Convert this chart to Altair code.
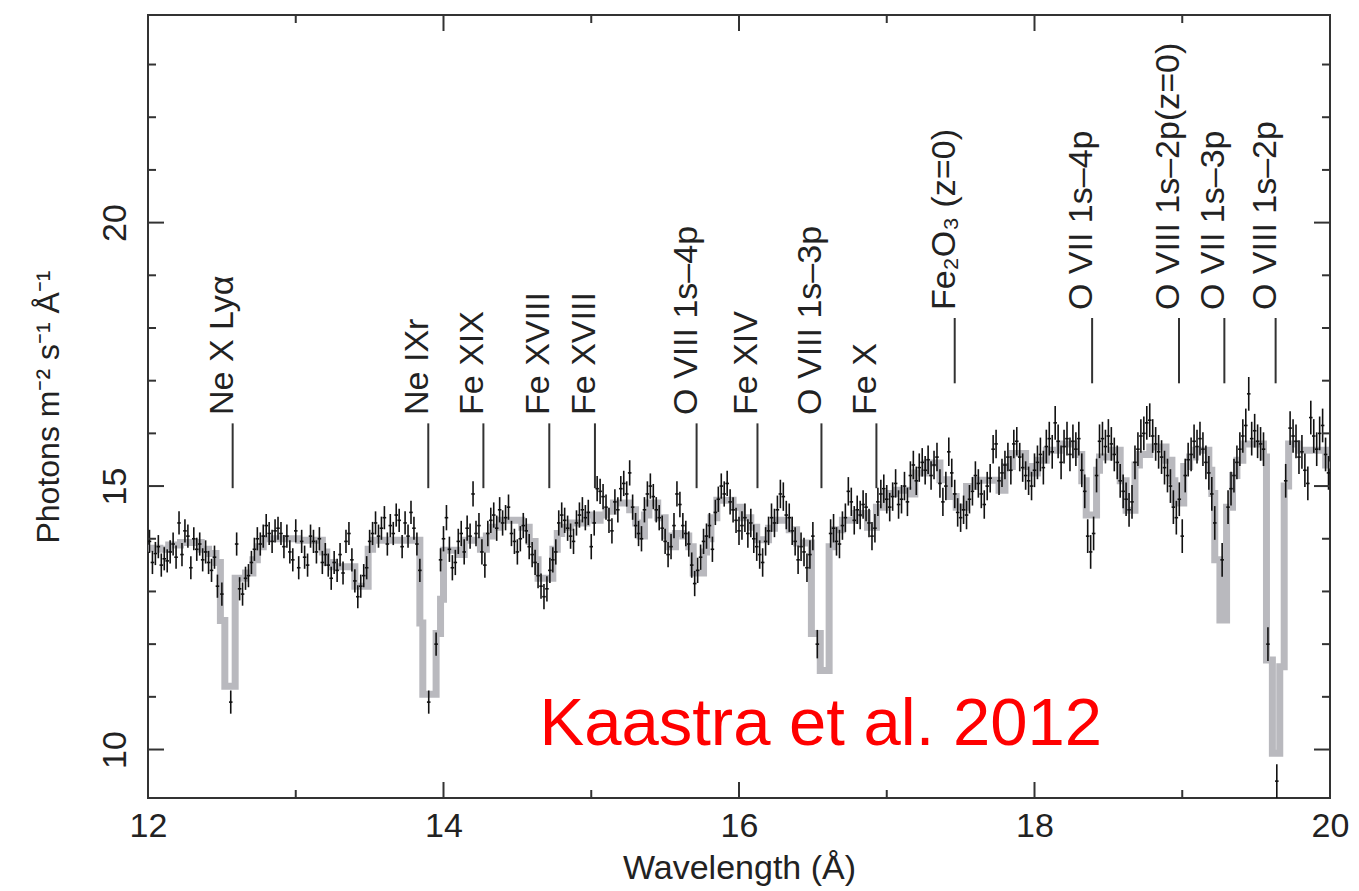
import altair as alt
import pandas as pd

FONT = "Liberation Sans"
INK = "#222222"

# ---------------- axis ranges and ticks ----------------
X_DOMAIN = [12.0, 20.0]
Y_DOMAIN = [9.08, 23.94]
X_LABEL_VALUES = [12, 14, 16, 18, 20]
X_MINOR = [13, 15, 17, 19]
Y_LABEL_VALUES = [10, 15, 20]
Y_MINOR = [11, 12, 13, 14, 16, 17, 18, 19, 21, 22, 23]

# ---------------- best-fit model (step curve) ----------------
MODEL_WAVE = [12.00, 12.08, 12.14, 12.22, 12.36, 12.41, 12.46, 12.49, 12.52, 12.59,
              12.66, 12.71, 12.74, 12.78, 13.02, 13.18, 13.21, 13.25, 13.40, 13.49,
              13.52, 13.84, 13.86, 13.95, 13.98, 14.00, 14.10, 14.14, 14.25, 14.29,
              14.33, 14.38, 14.53, 14.58, 14.62, 14.64, 14.74, 14.77, 14.80, 14.86,
              14.97, 15.02, 15.06, 15.10, 15.15, 15.26, 15.30, 15.33, 15.36, 15.39,
              15.45, 15.50, 15.53, 15.57, 15.62, 15.66, 15.69, 15.76, 15.78, 15.81,
              15.85, 15.96, 16.02, 16.08, 16.12, 16.20, 16.24, 16.34, 16.39, 16.49,
              16.55, 16.61, 16.64, 16.70, 16.79, 16.87, 16.93, 16.99, 17.06, 17.16,
              17.19, 17.27, 17.36, 17.42, 17.47, 17.54, 17.60, 17.76, 17.80, 17.85,
              17.94, 17.98, 18.02, 18.08, 18.17, 18.28, 18.32, 18.35, 18.42, 18.44,
              18.52, 18.58, 18.62, 18.68, 18.71, 18.78, 18.89, 18.93, 18.95, 19.01,
              19.05, 19.09, 19.18, 19.20, 19.22, 19.255, 19.30, 19.34, 19.37, 19.41,
              19.55, 19.57, 19.61, 19.66, 19.69, 19.72, 19.79, 19.97, 20.00]
MODEL_FLUX = [13.82, 13.80, 13.88, 13.93, 13.80, 13.72, 13.55, 12.45, 11.20, 13.25,
              13.35, 13.60, 13.85, 14.00, 13.97, 13.75, 13.55, 13.47, 13.10, 13.80,
              13.97, 12.40, 11.05, 12.20, 12.85, 13.78, 13.70, 13.97, 13.80, 14.05,
              14.22, 14.35, 14.22, 13.95, 13.60, 13.25, 13.80, 14.10, 14.22, 14.30,
              14.45, 14.35, 14.45, 14.52, 14.68, 14.55, 14.30, 14.05, 14.45, 14.68,
              14.40, 14.05, 13.85, 14.10, 14.05, 13.85, 13.35, 13.75, 14.00, 14.40,
              14.73, 14.60, 14.40, 14.22, 13.98, 14.20, 14.35, 14.17, 13.92, 12.20,
              11.50, 13.85, 14.17, 14.35, 14.48, 14.22, 14.60, 14.86, 14.92, 14.85,
              15.25, 15.44, 15.12, 14.80, 14.60, 14.99, 15.11, 14.92, 15.37, 15.62,
              15.37, 15.25, 15.49, 15.68, 15.80, 15.60, 15.10, 14.45, 15.30, 15.55,
              15.68, 15.10, 14.54, 15.40, 15.60, 15.74, 15.49, 15.10, 14.68, 15.37,
              15.55, 15.68, 15.30, 14.86, 13.60, 12.46, 14.60, 15.20, 15.49, 15.80,
              15.55, 11.70, 9.93, 11.57, 15.00, 15.80, 15.68, 15.40, 15.40]

# ---------------- observed spectrum: (wavelength, flux) per region ----------------
POINTS_12_14 = [
    (12.01, 13.95), (12.03, 13.55), (12.05, 13.72), (12.07, 13.85), (12.09, 13.50),
    (12.11, 13.62), (12.13, 13.58), (12.15, 13.75), (12.17, 13.90), (12.19, 13.65),
    (12.21, 14.30), (12.23, 13.70), (12.25, 14.15), (12.27, 14.05), (12.29, 13.45),
    (12.31, 14.00), (12.33, 13.80), (12.35, 13.90), (12.37, 13.60), (12.39, 13.75),
    (12.41, 13.55), (12.43, 13.40), (12.45, 13.65), (12.47, 13.10), (12.50, 12.95),
    (12.56, 10.90), (12.60, 13.90), (12.62, 13.05), (12.64, 12.95), (12.66, 13.25),
    (12.68, 13.30), (12.70, 13.55), (12.72, 13.80), (12.74, 14.00), (12.76, 13.90),
    (12.78, 14.05), (12.80, 14.25), (12.82, 14.10), (12.84, 13.95), (12.86, 14.15),
    (12.88, 14.20), (12.90, 14.10), (12.92, 13.85), (12.94, 14.05), (12.96, 13.75),
    (12.98, 13.60), (13.00, 14.15), (13.02, 13.45), (13.04, 13.95), (13.06, 13.65),
    (13.08, 13.50), (13.10, 14.05), (13.12, 13.95), (13.14, 13.75), (13.16, 14.00),
    (13.18, 13.55), (13.20, 13.70), (13.22, 13.50), (13.24, 13.25), (13.26, 13.55),
    (13.28, 13.40), (13.30, 13.70), (13.32, 13.35), (13.34, 13.95), (13.36, 14.10),
    (13.38, 13.60), (13.40, 13.20), (13.42, 12.90), (13.44, 13.10), (13.46, 13.30),
    (13.48, 13.45), (13.50, 13.95), (13.52, 14.10), (13.54, 14.30), (13.56, 14.05),
    (13.58, 14.20), (13.60, 14.40), (13.62, 13.90), (13.64, 14.25), (13.66, 14.10),
    (13.68, 14.45), (13.70, 14.35), (13.72, 13.85), (13.74, 14.30), (13.76, 14.05),
    (13.78, 14.50), (13.80, 14.20), (13.82, 13.90), (13.84, 13.40), (13.90, 10.90),
    (13.95, 12.00), (13.98, 13.60),
]
POINTS_14_16 = [
    (14.00, 14.00), (14.02, 14.40), (14.04, 13.80), (14.06, 13.45), (14.08, 13.55),
    (14.10, 13.95), (14.12, 14.10), (14.14, 13.75), (14.16, 14.20), (14.18, 14.05),
    (14.20, 14.85), (14.22, 14.10), (14.24, 14.25), (14.26, 13.75), (14.28, 13.50),
    (14.30, 14.10), (14.32, 14.35), (14.34, 14.45), (14.36, 14.20), (14.38, 14.55),
    (14.40, 14.30), (14.42, 14.40), (14.44, 14.60), (14.46, 14.10), (14.48, 13.95),
    (14.50, 13.75), (14.52, 14.00), (14.54, 14.25), (14.56, 14.15), (14.58, 13.85),
    (14.60, 13.70), (14.62, 13.55), (14.64, 13.30), (14.66, 13.10), (14.68, 12.90),
    (14.70, 13.05), (14.72, 13.40), (14.74, 13.60), (14.76, 13.75), (14.78, 14.30),
    (14.80, 14.45), (14.82, 14.35), (14.84, 14.20), (14.86, 14.05), (14.88, 13.95),
    (14.90, 14.30), (14.92, 14.45), (14.94, 14.55), (14.96, 14.40), (14.98, 14.50),
    (15.00, 13.85), (15.02, 14.30), (15.04, 14.95), (15.06, 14.90), (15.08, 14.80),
    (15.10, 14.60), (15.12, 14.35), (15.14, 14.15), (15.16, 14.70), (15.18, 14.55),
    (15.20, 14.95), (15.22, 15.05), (15.24, 14.85), (15.26, 15.25), (15.28, 14.60),
    (15.30, 14.25), (15.32, 14.10), (15.34, 14.00), (15.36, 14.55), (15.38, 14.85),
    (15.40, 15.00), (15.42, 14.80), (15.44, 14.55), (15.46, 14.40), (15.48, 14.20),
    (15.50, 13.95), (15.52, 13.70), (15.54, 13.85), (15.56, 14.25), (15.58, 14.85),
    (15.60, 14.65), (15.62, 14.25), (15.64, 14.10), (15.66, 13.90), (15.68, 13.50),
    (15.70, 13.15), (15.72, 13.40), (15.74, 13.65), (15.76, 13.95), (15.78, 14.05),
    (15.80, 14.25), (15.82, 13.80), (15.84, 14.50), (15.86, 14.75), (15.88, 15.00),
    (15.90, 14.85), (15.92, 15.05), (15.94, 14.70), (15.96, 14.55), (15.98, 14.35),
]
POINTS_16_18 = [
    (16.00, 14.15), (16.02, 14.25), (16.04, 14.40), (16.06, 14.10), (16.08, 14.30),
    (16.10, 14.00), (16.12, 13.85), (16.14, 13.70), (16.16, 13.55), (16.18, 13.95),
    (16.20, 14.15), (16.22, 14.40), (16.24, 14.30), (16.26, 14.55), (16.28, 14.85),
    (16.30, 14.80), (16.32, 14.45), (16.34, 14.40), (16.36, 14.15), (16.38, 13.95),
    (16.40, 13.60), (16.42, 13.85), (16.44, 13.75), (16.46, 13.45), (16.48, 13.70),
    (16.50, 14.05), (16.53, 12.00), (16.62, 14.10), (16.64, 14.20), (16.66, 13.95),
    (16.68, 13.90), (16.70, 14.25), (16.72, 14.40), (16.74, 14.90), (16.76, 14.70),
    (16.78, 14.35), (16.80, 14.55), (16.82, 14.45), (16.84, 14.65), (16.86, 14.60),
    (16.88, 14.30), (16.90, 14.05), (16.92, 14.20), (16.94, 14.70), (16.96, 14.85),
    (16.98, 14.95), (17.00, 14.75), (17.02, 14.60), (17.04, 14.80), (17.06, 15.05),
    (17.08, 14.65), (17.10, 14.75), (17.12, 15.00), (17.14, 14.70), (17.16, 15.20),
    (17.18, 15.40), (17.20, 15.10), (17.22, 15.35), (17.24, 15.45), (17.26, 15.30),
    (17.28, 15.50), (17.30, 15.20), (17.32, 15.40), (17.34, 15.55), (17.36, 15.05),
    (17.38, 14.70), (17.40, 15.00), (17.42, 15.65), (17.44, 15.25), (17.46, 14.85),
    (17.48, 14.50), (17.50, 14.40), (17.52, 14.55), (17.54, 14.45), (17.56, 14.75),
    (17.58, 14.90), (17.60, 15.20), (17.62, 15.05), (17.64, 14.85), (17.66, 14.65),
    (17.68, 15.00), (17.70, 15.15), (17.72, 15.70), (17.74, 15.80), (17.76, 15.10),
    (17.78, 15.25), (17.80, 15.40), (17.82, 15.55), (17.84, 15.30), (17.86, 15.80),
    (17.88, 15.85), (17.90, 15.55), (17.92, 15.35), (17.94, 15.20), (17.96, 15.10),
    (17.98, 15.00),
]
POINTS_18_20 = [
    (18.00, 15.30), (18.02, 15.45), (18.04, 15.60), (18.06, 15.35), (18.08, 15.75),
    (18.10, 15.90), (18.12, 15.65), (18.14, 16.20), (18.16, 15.85), (18.18, 15.45),
    (18.20, 15.75), (18.22, 15.90), (18.24, 15.60), (18.26, 15.85), (18.28, 15.70),
    (18.30, 15.90), (18.32, 15.30), (18.34, 14.90), (18.36, 14.05), (18.38, 13.75),
    (18.40, 14.10), (18.42, 15.20), (18.44, 15.85), (18.46, 15.90), (18.48, 15.75),
    (18.50, 15.95), (18.52, 15.80), (18.54, 15.60), (18.56, 15.45), (18.58, 15.10),
    (18.60, 14.90), (18.62, 14.75), (18.64, 14.55), (18.66, 14.70), (18.68, 15.45),
    (18.70, 15.70), (18.72, 15.95), (18.74, 16.00), (18.76, 16.20), (18.78, 16.25),
    (18.80, 15.95), (18.82, 15.80), (18.84, 15.65), (18.86, 15.55), (18.88, 15.35),
    (18.90, 15.20), (18.92, 15.00), (18.94, 14.60), (18.96, 14.40), (18.98, 14.75),
    (19.00, 14.05), (19.02, 15.20), (19.04, 15.50), (19.06, 15.60), (19.08, 15.85),
    (19.10, 15.75), (19.12, 15.90), (19.14, 15.70), (19.16, 15.45), (19.18, 15.25),
    (19.20, 14.85), (19.22, 14.30), (19.27, 13.60), (19.31, 14.60), (19.33, 14.95),
    (19.35, 15.20), (19.37, 15.45), (19.39, 15.70), (19.41, 15.95), (19.43, 16.15),
    (19.45, 16.75), (19.47, 15.90), (19.49, 16.05), (19.51, 15.85), (19.53, 15.80),
    (19.55, 15.70), (19.58, 12.00), (19.64, 9.40), (19.70, 15.10), (19.73, 16.10),
    (19.75, 15.95), (19.77, 15.85), (19.79, 15.55), (19.81, 15.65), (19.83, 15.30),
    (19.85, 15.05), (19.87, 16.30), (19.89, 15.95), (19.91, 15.70), (19.93, 16.00),
    (19.95, 16.15), (19.97, 15.60), (19.99, 15.25),
]
REGION_ERRORS = [0.22, 0.24, 0.27, 0.32]   # typical 1-sigma flux error per region
BIN_HALF_WIDTH = 0.012                      # half width of a spectral bin (Angstrom)

# ---------------- line identifications ----------------
LINE_NAMES = ["Ne X Ly\u03b1", "Ne IXr", "Fe XIX", "Fe XVIII", "Fe XVIII",
              "O VIII 1s\u20134p", "Fe XIV", "O VIII 1s\u20133p", "Fe X",
              "Fe\u2082O\u2083 (z=0)", "O VII 1s\u20134p", "O VIII 1s\u20132p(z=0)",
              "O VII 1s\u20133p", "O VIII 1s\u20132p"]
LINE_WAVES = [12.573, 13.897, 14.27, 14.716, 15.025, 15.713, 16.125, 16.558, 16.93,
              17.46, 18.39, 18.978, 19.285, 19.632]
LINE_TIER = ["low"] * 9 + ["high"] * 5
TIER_BOTTOM = {"low": 14.96, "high": 16.95}
TIER_TOP = {"low": 16.19, "high": 18.19}
TIER_LABEL = {"low": 16.35, "high": 18.34}

CREDIT_TEXT = ["Kaastra et al. 2012"]
CREDIT_WAVE = [14.65]
CREDIT_FLUX = [10.09]

# ---------------- tables ----------------
W, H = 1182, 783

model_df = pd.DataFrame({"wave": MODEL_WAVE, "flux": MODEL_FLUX})

rows = []
for pts, err in zip([POINTS_12_14, POINTS_14_16, POINTS_16_18, POINTS_18_20], REGION_ERRORS):
    for wv, fl in pts:
        rows.append({"wave": wv, "flux": fl, "lo": fl - err, "hi": fl + err,
                     "wlo": wv - BIN_HALF_WIDTH, "whi": wv + BIN_HALF_WIDTH})
data_df = pd.DataFrame(rows)

lines_df = pd.DataFrame({
    "wave": LINE_WAVES, "name": LINE_NAMES,
    "y0": [TIER_BOTTOM[t] for t in LINE_TIER],
    "y1": [TIER_TOP[t] for t in LINE_TIER],
    "ylab": [TIER_LABEL[t] for t in LINE_TIER],
})
credit_df = pd.DataFrame({"wave": CREDIT_WAVE, "flux": CREDIT_FLUX, "txt": CREDIT_TEXT})

xs = alt.Scale(domain=X_DOMAIN, nice=False, zero=False)
ys = alt.Scale(domain=Y_DOMAIN, nice=False, zero=False)

X_TITLE = "Wavelength (\u00c5)"
Y_TITLE = "Photons m\u207b\u00b2 s\u207b\u00b9 \u00c5\u207b\u00b9"

x_axis = alt.Axis(values=X_LABEL_VALUES, format="d", grid=False, domain=False,
                  ticks=False, tickSize=0, labelFlush=False, labelOverlap=False,
                  labelFont=FONT, labelFontSize=34, labelColor=INK,
                  labelPadding=11, labelBaseline="top",
                  titleFont=FONT, titleFontSize=34, titleFontWeight="normal",
                  titleColor=INK, titleBaseline="alphabetic", titleAlign="center",
                  titleX=W / 2, titleY=80)
y_axis = alt.Axis(values=Y_LABEL_VALUES, format="d", grid=False, domain=False,
                  ticks=False, tickSize=0, labelFlush=False, labelOverlap=False,
                  labelFont=FONT, labelFontSize=34, labelColor=INK,
                  labelAngle=270, labelAlign="center", labelBaseline="alphabetic",
                  labelPadding=23,
                  titleFont=FONT, titleFontSize=32, titleFontWeight="normal",
                  titleColor=INK, titleAngle=270, titleAlign="center",
                  titleBaseline="alphabetic", titleX=-90, titleY=H / 2)


def X(field):
    return alt.X(field, type="quantitative", scale=xs, axis=x_axis, title=X_TITLE)


def Y(field):
    return alt.Y(field, type="quantitative", scale=ys, axis=y_axis, title=Y_TITLE)


model = alt.Chart(model_df).mark_line(
    interpolate="step-after", color="#b9b9be", strokeWidth=7, clip=True
).encode(x=X("wave"), y=Y("flux"))

err_v = alt.Chart(data_df).mark_rule(color="#111111", strokeWidth=1.6, clip=True).encode(
    x=X("wave"), y=Y("lo"), y2="hi")
err_h = alt.Chart(data_df).mark_rule(color="#111111", strokeWidth=1.6, clip=True).encode(
    x=X("wlo"), x2="whi", y=Y("flux"))

markers = alt.Chart(lines_df).mark_rule(color="#333333", strokeWidth=2).encode(
    x=X("wave"), y=Y("y0"), y2="y1")
labels = alt.Chart(lines_df).mark_text(
    angle=270, align="left", baseline="alphabetic", font=FONT, fontSize=34, color=INK
).encode(x=X("wave"), y=Y("ylab"), text="name:N")

credit = alt.Chart(credit_df).mark_text(
    align="left", baseline="alphabetic", font=FONT, fontSize=67, color="#ff0000"
).encode(x=X("wave"), y=Y("flux"), text="txt:N")

# inward ticks on all four sides
xmaj = pd.DataFrame({"t": X_LABEL_VALUES})
xmin = pd.DataFrame({"t": X_MINOR})
ymaj = pd.DataFrame({"t": Y_LABEL_VALUES})
ymin = pd.DataFrame({"t": Y_MINOR})
TICK_COLOR = "#333333"
MAJ, MINL = 16, 8


def xticks(df, length):
    bottom = alt.Chart(df).mark_rule(color=TICK_COLOR, strokeWidth=2).encode(
        x=X("t"), y=alt.value(H), y2=alt.value(H - length))
    top = alt.Chart(df).mark_rule(color=TICK_COLOR, strokeWidth=2).encode(
        x=X("t"), y=alt.value(0), y2=alt.value(length))
    return [bottom, top]


def yticks(df, length):
    left = alt.Chart(df).mark_rule(color=TICK_COLOR, strokeWidth=2).encode(
        y=Y("t"), x=alt.value(0), x2=alt.value(length))
    right = alt.Chart(df).mark_rule(color=TICK_COLOR, strokeWidth=2).encode(
        y=Y("t"), x=alt.value(W), x2=alt.value(W - length))
    return [left, right]


tick_layers = xticks(xmaj, MAJ) + xticks(xmin, MINL) + yticks(ymaj, MAJ) + yticks(ymin, MINL)

chart = alt.layer(
    model, err_v, err_h, markers, labels, credit, *tick_layers
).properties(
    width=W, height=H,
    autosize=alt.AutoSizeParams(type="none"),
    padding={"left": 140, "top": 7, "right": 21, "bottom": 88},
    background="white",
).configure_view(stroke="#333333", strokeWidth=2)

chart.save("out.html", embed_options={"renderer": "svg", "actions": False})
